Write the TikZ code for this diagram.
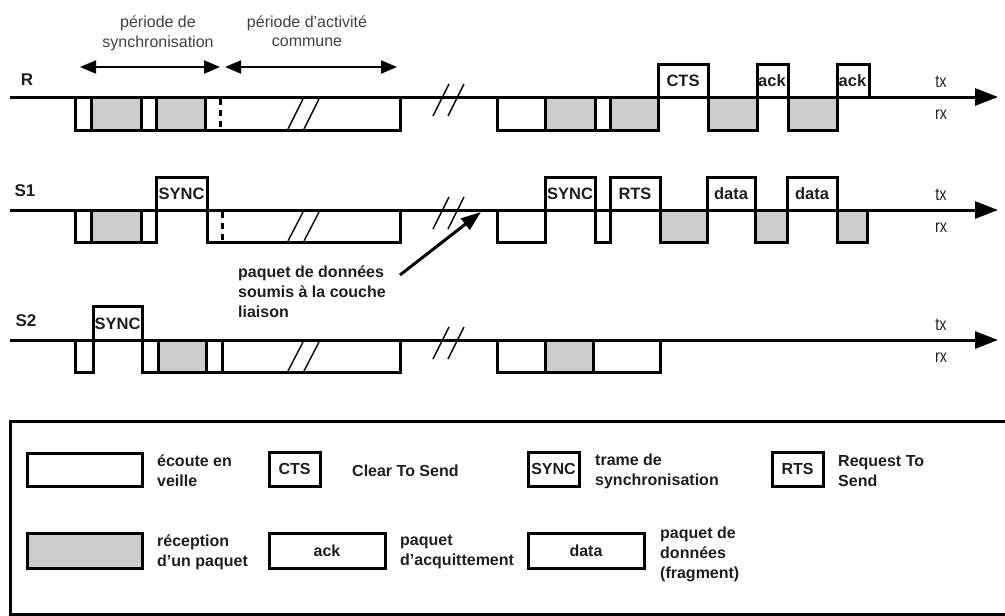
\documentclass[tikz,border=0pt]{standalone}
\usepackage{fontspec}
\setmainfont{Liberation Sans}
\usetikzlibrary{arrows.meta}
\definecolor{rxgray}{RGB}{204,204,204}
\definecolor{ink}{RGB}{30,30,30}
\tikzset{
 ln/.style={line width=3pt, line join=miter},
 idle/.style={ln, fill=white},
 recv/.style={ln, fill=rxgray},
 thinline/.style={line width=1.4pt},
 dsh/.style={line width=3pt, dash pattern=on 6pt off 5pt},
 axis/.style={line width=3pt, -{Triangle[length=23pt,width=17pt]}},
 span/.style={line width=2pt, {Triangle[length=16pt,width=13pt]}-{Triangle[length=16pt,width=13pt]}},
 pk/.style={line width=3pt, -{Triangle[length=20pt,width=14pt]}},
 lbl/.style={font=\fontsize{16.5}{19}\selectfont\bfseries, text=ink, inner sep=0pt},
 rowname/.style={font=\fontsize{17}{20}\selectfont\bfseries, text=ink, inner sep=0pt},
 txrx/.style={font=\fontsize{18}{20}\selectfont, text=ink, inner sep=0pt},
 note/.style={font=\fontsize{16}{19.5}\selectfont, text=black!75, align=center, inner sep=0pt},
 bnote/.style={font=\fontsize{16}{20}\selectfont\bfseries, text=ink, align=left, inner sep=0pt},
 lbox/.style={draw, line width=3pt, fill=white, inner sep=0pt, font=\fontsize{16}{19}\selectfont\bfseries, text=ink},
}
\newcommand\boxslash[2]{%
 \draw[thinline] (288,#2) -- (303,#1);
 \draw[thinline] (304,#2) -- (319,#1);}
\newcommand\breakslash[1]{%
 \draw[thinline] (433,#1+19) -- (449,#1-13);
 \draw[thinline] (448,#1+19) -- (464,#1-13);}
\newcommand\txlabels[1]{%
 \node[txrx] at (941,#1-15) {\scalebox{0.8}[1]{tx}};
 \node[txrx] at (941,#1+18) {\scalebox{0.8}[1]{rx}};}
\begin{document}
\begin{tikzpicture}[x=1pt,y=-1pt]
\useasboundingbox (0,0) rectangle (1005,616);

% ---------- top annotations ----------
\node[note] (nsync) at (158,33.5) {période de\\synchronisation};
\node[note] (nact) at (307,31) {période d'activité\\commune};
\coordinate (sa) at (80,67);
\coordinate (sb) at (220,67);
\coordinate (aa) at (225,67);
\coordinate (ab) at (397,67);
\draw[span] (sa) -- (sb);
\draw[span] (aa) -- (ab);

% ---------- row R (line y=97) ----------
\node[rowname] (lr) at (27,80) {R};
\draw[idle] (75,97) rectangle (91,130);
\draw[recv] (91,97) rectangle (141,130);
\draw[idle] (141,97) rectangle (156,130);
\draw[recv] (156,97) rectangle (205,130);
\draw[idle] (205,97) rectangle (400,130);
\draw[dsh] (220,99) -- (220,130);
\boxslash{99}{129}
\draw[idle] (497,97) rectangle (545,130);
\draw[recv] (545,97) rectangle (595,130);
\draw[idle] (595,97) rectangle (610,130);
\draw[recv] (610,97) rectangle (658,130);
\draw[idle] (658,64) rectangle (708,97);
\node[lbl] (rcts) at (683,81) {CTS};
\draw[recv] (708,97) rectangle (757,130);
\draw[idle] (757,64) rectangle (788,97);
\node[lbl] (rack1) at (772,81) {ack};
\draw[recv] (788,97) rectangle (837,130);
\draw[idle] (837,64) rectangle (869,97);
\node[lbl] (rack2) at (852.5,81) {ack};
\coordinate (r0) at (10,97);
\coordinate (r1) at (998,97);
\draw[axis] (r0) -- (r1);
\breakslash{97}
\txlabels{97}

% ---------- row S1 (line y=210) ----------
\node[rowname] (ls1) at (25,191) {S1};
\draw[idle] (75,210) rectangle (91,242);
\draw[recv] (91,210) rectangle (141,242);
\draw[idle] (141,210) rectangle (156,242);
\draw[idle] (156,177) rectangle (207,210);
\node[lbl] (s1sync) at (181.5,194) {SYNC};
\draw[idle] (207,210) rectangle (400,242);
\draw[dsh] (222,212) -- (222,242);
\boxslash{212}{241}
\draw[idle] (497,210) rectangle (545,242);
\draw[idle] (545,177) rectangle (595,210);
\node[lbl] (s1sync2) at (570,194) {SYNC};
\draw[idle] (595,210) rectangle (610,242);
\draw[idle] (610,177) rectangle (660,210);
\node[lbl] (s1rts) at (635,194) {RTS};
\draw[recv] (660,210) rectangle (707,242);
\draw[idle] (707,177) rectangle (755,210);
\node[lbl] (s1data1) at (731,194) {data};
\draw[recv] (755,210) rectangle (787,242);
\draw[idle] (787,177) rectangle (837,210);
\node[lbl] (s1data2) at (812,194) {data};
\draw[recv] (837,210) rectangle (867,242);
\coordinate (s10) at (10,210);
\coordinate (s11) at (998,210);
\draw[axis] (s10) -- (s11);
\breakslash{210}
\txlabels{210}

% ---------- row S2 (line y=340) ----------
\node[rowname] (ls2) at (26,321) {S2};
\draw[idle] (75,340) rectangle (93,372);
\draw[idle] (93,306) rectangle (142,340);
\node[lbl] (s2sync) at (117.5,324) {SYNC};
\draw[idle] (142,340) rectangle (158,372);
\draw[recv] (158,340) rectangle (206,372);
\draw[idle] (206,340) rectangle (222,372);
\draw[idle] (222,340) rectangle (400,372);
\boxslash{342}{371}
\draw[idle] (497,340) rectangle (545,372);
\draw[recv] (545,340) rectangle (593,372);
\draw[idle] (593,340) rectangle (660,372);
\coordinate (s20) at (10,340);
\coordinate (s21) at (998,340);
\draw[axis] (s20) -- (s21);
\breakslash{340}
\txlabels{340}

% ---------- packet annotation ----------
\node[bnote, anchor=north west] (paq) at (238,266) {paquet de données\\soumis à la couche\\liaison};
\coordinate (ptail) at (400,275);
\coordinate (phead) at (481,212);
\draw[pk] (ptail) -- (phead);

% ---------- legend ----------
\draw[ln] (1005,421) -| (10,614) -- (1005,614);
\node[lbox, minimum width=115pt, minimum height=33pt] (lidle) at (84.5,469.5) {};
\node[bnote, anchor=west] (tidle) at (157,471) {écoute en\\veille};
\node[lbox, minimum width=51pt, minimum height=34pt] (lcts) at (294.5,469) {CTS};
\node[bnote, anchor=west] (tcts) at (352,471) {Clear To Send};
\node[lbox, minimum width=51pt, minimum height=34pt] (lsync) at (553.5,469) {SYNC};
\node[bnote, anchor=west] (tsync) at (595,471) {trame de\\synchronisation};
\node[lbox, minimum width=51pt, minimum height=34pt] (lrts) at (797.5,469) {RTS};
\node[bnote, anchor=west] (trts) at (838,471) {Request To\\Send};
\node[lbox, fill=rxgray, minimum width=115pt, minimum height=35pt] (lrecv) at (84.5,550.5) {};
\node[bnote, anchor=west] (trecv) at (157,552) {réception\\d'un paquet};
\node[lbox, minimum width=116pt, minimum height=35pt] (lack) at (327,550.5) {ack};
\node[bnote, anchor=west] (tack) at (400,552) {paquet\\d'acquittement};
\node[lbox, minimum width=116pt, minimum height=35pt] (ldata) at (586,550.5) {data};
\node[bnote, anchor=west] (tdata) at (660,554) {paquet de\\données\\(fragment)};
\end{tikzpicture}
\end{document}
